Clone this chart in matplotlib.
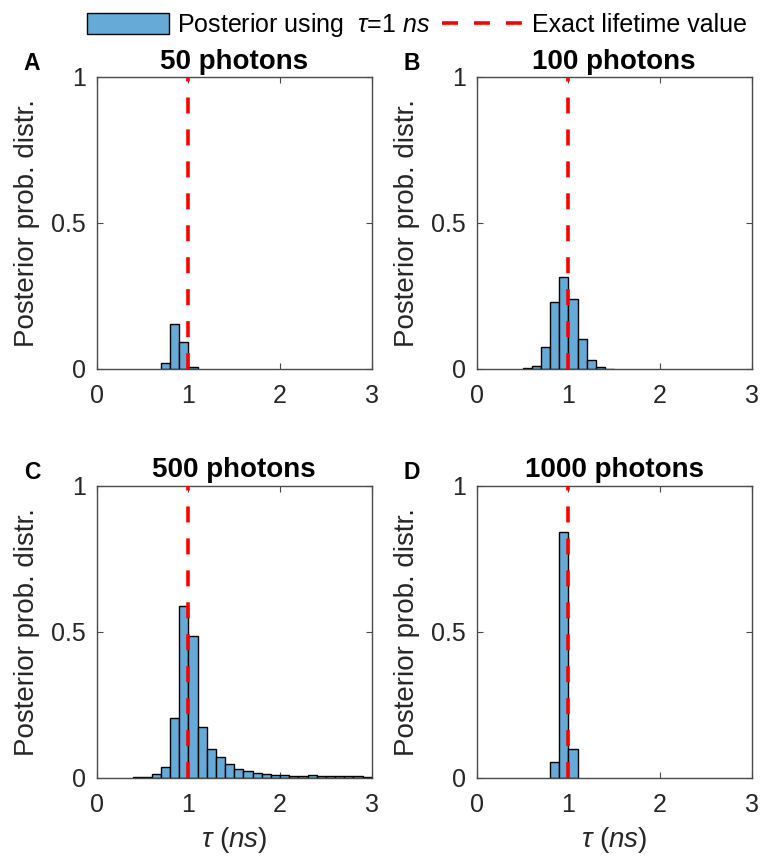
import numpy as np
import matplotlib
matplotlib.use("Agg")
import matplotlib.pyplot as plt
from matplotlib.patches import Patch
from matplotlib.lines import Line2D

# ---------------- data ----------------
panel_letters = ["A", "B", "C", "D"]
panel_titles = ["50 photons", "100 photons", "500 photons", "1000 photons"]
exact_tau = 1.0
bin_width = 0.1

# left edges of the non-empty histogram bins (ns) and their heights
a_left = [0.7, 0.8, 0.9, 1.0]
a_height = [0.021, 0.154, 0.091, 0.006]

b_left = [0.5, 0.6, 0.7, 0.8, 0.9, 1.0, 1.1, 1.2, 1.3, 1.4]
b_height = [0.002, 0.010, 0.076, 0.228, 0.314, 0.241, 0.103, 0.030, 0.006, 0.001]

c_left = [0.4, 0.5, 0.6, 0.7, 0.8, 0.9, 1.0, 1.1, 1.2, 1.3, 1.4, 1.5, 1.6, 1.7,
          1.8, 1.9, 2.0, 2.1, 2.2, 2.3, 2.4, 2.5, 2.6, 2.7, 2.8, 2.9]
c_height = [0.001, 0.003, 0.012, 0.038, 0.206, 0.589, 0.486, 0.174, 0.097, 0.070,
            0.048, 0.031, 0.022, 0.015, 0.013, 0.010, 0.008, 0.007, 0.006, 0.008,
            0.006, 0.005, 0.005, 0.006, 0.005, 0.004]

d_left = [0.8, 0.9, 1.0]
d_height = [0.054, 0.841, 0.100]

x_ticks = [0, 1, 2, 3]
y_ticks = [0, 0.5, 1]
y_ticklabels = ["0", "0.5", "1"]

legend_labels = [r"Posterior using  $\tau$=1 $\mathit{ns}$", "Exact lifetime value"]
ylabel_text = "Posterior prob. distr."
xlabel_text = r"$\tau$ $\mathit{(ns)}$"

# ---------------- style ----------------
plt.rcParams["font.family"] = ["Liberation Sans", "DejaVu Sans"]
plt.rcParams["mathtext.fontset"] = "custom"
plt.rcParams["mathtext.rm"] = "Liberation Sans"
plt.rcParams["mathtext.it"] = "Liberation Sans:italic"
plt.rcParams["mathtext.bf"] = "Liberation Sans:bold"
plt.rcParams["lines.scale_dashes"] = False

bar_face = "#66AAD7"
axis_col = "#4a4a4a"
text_col = "#262626"

fig = plt.figure(figsize=(7.62, 8.59), dpi=100)

W, H = 762.0, 859.0
ax_w, ax_h = 275.0 / W, 292.0 / H
lefts = [96.7 / W, 476.7 / W]
bottoms = [(H - 369.0) / H, (H - 777.7) / H]

panels = [(a_left, a_height), (b_left, b_height), (c_left, c_height), (d_left, d_height)]
letter_pos = [(32, 64), (412, 64), (32, 473), (412, 473)]

for i, (lefts_i, heights_i) in enumerate(panels):
    row, col = divmod(i, 2)
    ax = fig.add_axes([lefts[col], bottoms[row], ax_w, ax_h])
    ax.bar(lefts_i, heights_i, width=bin_width, align="edge",
           color=bar_face, edgecolor="black", linewidth=1.0, zorder=2)
    ax.plot([exact_tau, exact_tau], [0, 1], color="#FF0000", linewidth=2.6,
            dashes=(11.5, 11.5), zorder=3)
    ax.set_xlim(0, 3)
    ax.set_ylim(0, 1)
    ax.set_xticks(x_ticks)
    ax.set_yticks(y_ticks)
    ax.set_yticklabels(y_ticklabels)
    ax.tick_params(direction="in", top=True, right=True, length=4, width=0.8,
                   color=axis_col, labelcolor=text_col, labelsize=18)
    ax.tick_params(axis="y", pad=8)
    ax.tick_params(axis="x", pad=11)
    for s in ax.spines.values():
        s.set_color(axis_col)
        s.set_linewidth(1.0)
    ax.set_title(panel_titles[i], fontsize=20, fontweight="bold", color="black", pad=6)
    ax.set_ylabel(ylabel_text, fontsize=20, color=text_col, labelpad=8)
    if row == 1:
        ax.set_xlabel(xlabel_text, fontsize=20, color=text_col, labelpad=6)
    lx, ly = letter_pos[i]
    fig.text(lx / W, 1 - ly / H, panel_letters[i], fontsize=16.5, fontweight="bold",
             ha="center", va="center")

handles = [Patch(facecolor=bar_face, edgecolor="black", linewidth=1.0),
           Line2D([0], [0], color="#FF0000", linewidth=2.6, dashes=(11.5, 11.5))]
fig.legend(handles, legend_labels, loc="center", bbox_to_anchor=(417 / W, 1 - 25 / H),
           ncol=2, frameon=False, fontsize=18, handlelength=3.3, handleheight=0.9,
           handletextpad=0.3, columnspacing=0.5)

fig.savefig("out.png", dpi=100)
